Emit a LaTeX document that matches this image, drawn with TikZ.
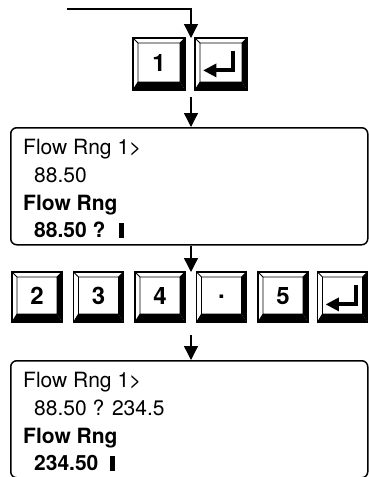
\documentclass[tikz,border=0pt]{standalone}
\usepackage{fontspec}
\setsansfont{TeX Gyre Heros}
\usetikzlibrary{arrows.meta,calc}
\newcommand\enterglyph[1]{%
  \draw[line width=4pt, line join=miter]
    ($(#1.north west)+(39pt,-14pt)$) -- ($(#1.north west)+(39pt,-33pt)$) -- ($(#1.north west)+(20pt,-33pt)$);
  \fill ($(#1.north west)+(9pt,-33pt)$) -- ++(13pt,7pt) -- ++(0pt,-14pt) -- cycle;}
\begin{document}
\begin{tikzpicture}[x=1pt,y=-1pt,
  conn/.style={line width=1.3pt},
  arr/.style={conn,-{Triangle[width=14pt,length=14pt]}},
  display/.style={draw, line width=1.5pt, rounded corners=6pt, rectangle,
    minimum width=357pt, minimum height=117pt, inner sep=0pt, anchor=north west},
  lite/.style={anchor=base west, inner sep=0pt, font=\sffamily\fontsize{21}{24}\selectfont},
  boldline/.style={anchor=base west, inner sep=0pt, font=\sffamily\bfseries\fontsize{21}{24}\selectfont},
  keybox/.style={rectangle, minimum width=#1, minimum height=#1, inner sep=0pt,
    draw, line width=1.2pt, font=\sffamily\bfseries\fontsize{24}{26}\selectfont,
    path picture={
      \path (path picture bounding box.north west) coordinate (oNW)
            (path picture bounding box.north east) coordinate (oNE)
            (path picture bounding box.south east) coordinate (oSE)
            (path picture bounding box.south west) coordinate (oSW);
      \coordinate (iNW) at ($(oNW)+(5pt,-5pt)$);
      \coordinate (iNE) at ($(oNE)+(-5pt,-5pt)$);
      \coordinate (iSE) at ($(oSE)+(-5pt,8pt)$);
      \coordinate (iSW) at ($(oSW)+(5pt,8pt)$);
      \fill[black] (oNE) -- (oSE) -- (iSE) -- (iNE) -- cycle;
      \fill[black] (oSW) -- (oSE) -- (iSE) -- (iSW) -- cycle;
      \draw[line width=0.8pt] (iNW) rectangle (iSE)
        (oNW) -- (iNW) (oNE) -- (iNE) (oSW) -- (iSW);
    }},
]
\useasboundingbox (0,0) rectangle (368,477);

% first key row
\node[keybox=52pt] (k1) at (159,64) {\raisebox{1.5pt}{1}};
\node[keybox=52pt] (ke1) at (221,64) {};
\enterglyph{ke1}

% first display
\node[display] (d1) at (10,127) {};
\node[lite] (l11) at (23,154) {Flow Rng 1>};
\node[lite] (l12) at (34,182.5) {88.50};
\node[boldline] (l13) at (23,210.5) {Flow Rng};
\node[boldline] (l14) at (34,237.5) {88.50 ?\hspace{14pt}\rule{5pt}{15pt}};

% second key row
\node[keybox=50pt] (k2) at (37,297) {\raisebox{1.5pt}{2}};
\node[keybox=50pt] (k3) at (98.5,297) {\raisebox{1.5pt}{3}};
\node[keybox=50pt] (k4) at (160,297) {\raisebox{1.5pt}{4}};
\node[keybox=50pt] (kd) at (221.5,297) {\raisebox{1.5pt}{.}};
\node[keybox=50pt] (k5) at (283,297) {\raisebox{1.5pt}{5}};
\node[keybox=50pt] (ke2) at (342.5,297) {};
\enterglyph{ke2}

% second display
\node[display] (d2) at (10,360) {};
\node[lite] (l21) at (23,387) {Flow Rng 1>};
\node[lite] (l22) at (34,415.5) {88.50 ? 234.5};
\node[boldline] (l23) at (23,443.5) {Flow Rng};
\node[boldline] (l24) at (34,470.5) {234.50\hspace{12pt}\rule{5pt}{15pt}};

% connectors
\coordinate (s0) at (67,9);
\coordinate (t1) at (191,38);
\coordinate (s2) at (191,97);
\coordinate (t3) at (191,272);
\coordinate (s4) at (191,335);
\draw[arr] (s0) -| (t1);
\draw[arr] (s2) -- (s2 |- d1.north);
\draw[arr] (d1.south -| s2) -- (t3);
\draw[arr] (s4) -- (s4 |- d2.north);
\end{tikzpicture}
\end{document}
